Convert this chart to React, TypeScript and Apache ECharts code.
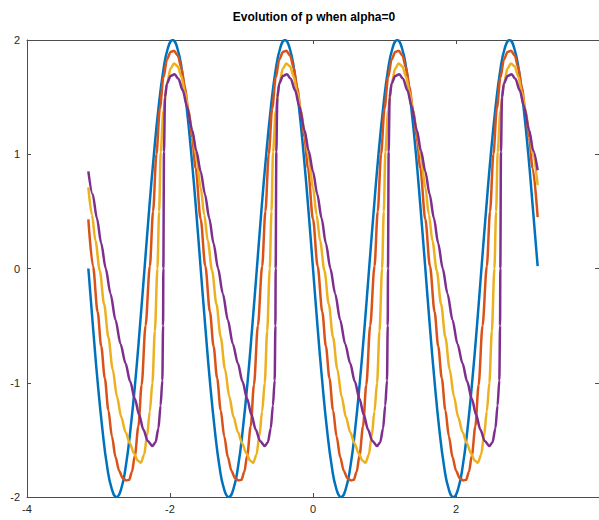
import React, { useEffect, useRef } from "react";
import * as echarts from "echarts";

const chartTitle = "Evolution of p when alpha=0";
const xTickMin = -4;
const xTickMax = 4;
const xTickStep = 2;
const yTickMin = -2;
const yTickMax = 2;
const yTickStep = 1;

const blueX = [
  -3.142, -3.076, -3.011, -2.945, -2.88, -2.814, -2.749, -2.683, -2.618, -2.553, -2.487, -2.422, -2.356, -2.291, -2.225, -2.16, -2.094, -2.029, -1.963, -1.898, -1.833, -1.767, -1.702, -1.636,
  -1.571, -1.505, -1.44, -1.374, -1.309, -1.244, -1.178, -1.113, -1.047, -0.982, -0.916, -0.851, -0.785, -0.72, -0.654, -0.589, -0.524, -0.458, -0.393, -0.327, -0.262, -0.196, -0.131, -0.065,
  0, 0.065, 0.131, 0.196, 0.262, 0.327, 0.393, 0.458, 0.524, 0.589, 0.654, 0.72, 0.785, 0.851, 0.916, 0.982, 1.047, 1.113, 1.178, 1.244, 1.309, 1.374, 1.44, 1.505,
  1.571, 1.636, 1.702, 1.767, 1.833, 1.898, 1.963, 2.029, 2.094, 2.16, 2.225, 2.291, 2.356, 2.422, 2.487, 2.553, 2.618, 2.683, 2.749, 2.814, 2.88, 2.945, 3.011, 3.076,
  3.142,
];
const blueY = [
  0, -0.52, -1, -1.41, -1.73, -1.93, -2, -1.93, -1.73, -1.41, -1, -0.52, 0, 0.52, 1, 1.41, 1.73, 1.93, 2, 1.93, 1.73, 1.41, 1, 0.52,
  0, -0.52, -1, -1.41, -1.73, -1.93, -2, -1.93, -1.73, -1.41, -1, -0.52, 0, 0.52, 1, 1.41, 1.73, 1.93, 2, 1.93, 1.73, 1.41, 1, 0.52,
  0, -0.52, -1, -1.41, -1.73, -1.93, -2, -1.93, -1.73, -1.41, -1, -0.52, 0, 0.52, 1, 1.41, 1.73, 1.93, 2, 1.93, 1.73, 1.41, 1, 0.52,
  0, -0.52, -1, -1.41, -1.73, -1.93, -2, -1.93, -1.73, -1.41, -1, -0.52, 0, 0.52, 1, 1.41, 1.73, 1.93, 2, 1.93, 1.73, 1.41, 1, 0.52,
  0.02,
];

const orangeX = [
  -3.142, -3.077, -3.012, -2.962, -2.912, -2.862, -2.812, -2.762, -2.712, -2.662, -2.612, -2.572, -2.532, -2.492, -2.442, -2.397, -2.342, -2.282, -2.237, -2.19, -2.142, -2.092, -2.042, -1.992, -1.944, -1.892, -1.842, -1.792, -1.742, -1.692, -1.642,
  -1.571, -1.506, -1.441, -1.391, -1.341, -1.291, -1.241, -1.191, -1.141, -1.091, -1.041, -1.001, -0.961, -0.921, -0.871, -0.826, -0.771, -0.711, -0.666, -0.619, -0.571, -0.521, -0.471, -0.421, -0.373, -0.321, -0.271, -0.221, -0.171, -0.121, -0.071,
  0, 0.065, 0.13, 0.18, 0.23, 0.28, 0.33, 0.38, 0.43, 0.48, 0.53, 0.57, 0.61, 0.65, 0.7, 0.745, 0.8, 0.86, 0.905, 0.952, 1.0, 1.05, 1.1, 1.15, 1.198, 1.25, 1.3, 1.35, 1.4, 1.45, 1.5,
  1.571, 1.636, 1.701, 1.751, 1.801, 1.851, 1.901, 1.951, 2.001, 2.051, 2.101, 2.141, 2.181, 2.221, 2.271, 2.316, 2.371, 2.431, 2.476, 2.523, 2.571, 2.621, 2.671, 2.721, 2.769, 2.821, 2.871, 2.921, 2.971, 3.021, 3.071,
  3.142,
];
const orangeY = [
  0.43, 0.02, -0.38, -0.68, -0.96, -1.24, -1.47, -1.65, -1.77, -1.835, -1.855, -1.85, -1.78, -1.64, -1.38, -1.02, -0.5, 0.02, 0.5, 1.0, 1.4, 1.67, 1.83, 1.895, 1.905, 1.865, 1.76, 1.59, 1.38, 1.15, 0.88,
  0.43, 0.02, -0.38, -0.68, -0.96, -1.24, -1.47, -1.65, -1.77, -1.835, -1.855, -1.85, -1.78, -1.64, -1.38, -1.02, -0.5, 0.02, 0.5, 1.0, 1.4, 1.67, 1.83, 1.895, 1.905, 1.865, 1.76, 1.59, 1.38, 1.15, 0.88,
  0.43, 0.02, -0.38, -0.68, -0.96, -1.24, -1.47, -1.65, -1.77, -1.835, -1.855, -1.85, -1.78, -1.64, -1.38, -1.02, -0.5, 0.02, 0.5, 1.0, 1.4, 1.67, 1.83, 1.895, 1.905, 1.865, 1.76, 1.59, 1.38, 1.15, 0.88,
  0.43, 0.02, -0.38, -0.68, -0.96, -1.24, -1.47, -1.65, -1.77, -1.835, -1.855, -1.85, -1.78, -1.64, -1.38, -1.02, -0.5, 0.02, 0.5, 1.0, 1.4, 1.67, 1.83, 1.895, 1.905, 1.865, 1.76, 1.59, 1.38, 1.15, 0.88,
  0.45,
];

const yellowX = [
  -3.142, -3.092, -3.042, -2.982, -2.922, -2.862, -2.802, -2.742, -2.682, -2.622, -2.562, -2.502, -2.452, -2.407, -2.362, -2.322, -2.282, -2.246, -2.212, -2.176, -2.152, -2.13, -2.092, -2.042, -1.992, -1.944, -1.892, -1.842, -1.792, -1.742, -1.692, -1.635,
  -1.571, -1.521, -1.471, -1.411, -1.351, -1.291, -1.231, -1.171, -1.111, -1.051, -0.991, -0.931, -0.881, -0.836, -0.791, -0.751, -0.711, -0.675, -0.641, -0.605, -0.581, -0.559, -0.521, -0.471, -0.421, -0.373, -0.321, -0.271, -0.221, -0.171, -0.121, -0.064,
  0, 0.05, 0.1, 0.16, 0.22, 0.28, 0.34, 0.4, 0.46, 0.52, 0.58, 0.64, 0.69, 0.735, 0.78, 0.82, 0.86, 0.896, 0.93, 0.966, 0.99, 1.012, 1.05, 1.1, 1.15, 1.198, 1.25, 1.3, 1.35, 1.4, 1.45, 1.507,
  1.571, 1.621, 1.671, 1.731, 1.791, 1.851, 1.911, 1.971, 2.031, 2.091, 2.151, 2.211, 2.261, 2.306, 2.351, 2.391, 2.431, 2.467, 2.501, 2.537, 2.561, 2.583, 2.621, 2.671, 2.721, 2.769, 2.821, 2.871, 2.921, 2.971, 3.021, 3.078,
  3.142,
];
const yellowY = [
  0.71, 0.47, 0.24, -0.02, -0.31, -0.6, -0.88, -1.12, -1.3, -1.43, -1.53, -1.62, -1.68, -1.7, -1.63, -1.47, -1.25, -1.0, -0.55, 0.0, 0.5, 1.02, 1.38, 1.62, 1.75, 1.795, 1.77, 1.68, 1.55, 1.39, 1.21, 0.99,
  0.71, 0.47, 0.24, -0.02, -0.31, -0.6, -0.88, -1.12, -1.3, -1.43, -1.53, -1.62, -1.68, -1.7, -1.63, -1.47, -1.25, -1.0, -0.55, 0.0, 0.5, 1.02, 1.38, 1.62, 1.75, 1.795, 1.77, 1.68, 1.55, 1.39, 1.21, 0.99,
  0.71, 0.47, 0.24, -0.02, -0.31, -0.6, -0.88, -1.12, -1.3, -1.43, -1.53, -1.62, -1.68, -1.7, -1.63, -1.47, -1.25, -1.0, -0.55, 0.0, 0.5, 1.02, 1.38, 1.62, 1.75, 1.795, 1.77, 1.68, 1.55, 1.39, 1.21, 0.99,
  0.71, 0.47, 0.24, -0.02, -0.31, -0.6, -0.88, -1.12, -1.3, -1.43, -1.53, -1.62, -1.68, -1.7, -1.63, -1.47, -1.25, -1.0, -0.55, 0.0, 0.5, 1.02, 1.38, 1.62, 1.75, 1.795, 1.77, 1.68, 1.55, 1.39, 1.21, 0.99,
  0.73,
];

const purpleX = [
  -3.142, -3.082, -3.022, -2.962, -2.899, -2.832, -2.762, -2.692, -2.622, -2.557, -2.492, -2.432, -2.372, -2.312, -2.246, -2.202, -2.162, -2.132, -2.107, -2.097, -2.093, -2.084, -2.07, -2.042, -1.992, -1.935, -1.882, -1.822, -1.762, -1.69, -1.632,
  -1.571, -1.511, -1.451, -1.391, -1.328, -1.261, -1.191, -1.121, -1.051, -0.986, -0.921, -0.861, -0.801, -0.741, -0.675, -0.631, -0.591, -0.561, -0.536, -0.526, -0.522, -0.513, -0.499, -0.471, -0.421, -0.364, -0.311, -0.251, -0.191, -0.119, -0.061,
  0, 0.06, 0.12, 0.18, 0.243, 0.31, 0.38, 0.45, 0.52, 0.585, 0.65, 0.71, 0.77, 0.83, 0.896, 0.94, 0.98, 1.01, 1.035, 1.045, 1.049, 1.058, 1.072, 1.1, 1.15, 1.207, 1.26, 1.32, 1.38, 1.452, 1.51,
  1.571, 1.631, 1.691, 1.751, 1.814, 1.881, 1.951, 2.021, 2.091, 2.156, 2.221, 2.281, 2.341, 2.401, 2.467, 2.511, 2.551, 2.581, 2.606, 2.616, 2.62, 2.629, 2.643, 2.671, 2.721, 2.778, 2.831, 2.891, 2.951, 3.023, 3.081,
  3.142,
];
const purpleY = [
  0.85, 0.65, 0.44, 0.22, 0.0, -0.22, -0.45, -0.66, -0.83, -0.99, -1.14, -1.28, -1.41, -1.51, -1.553, -1.52, -1.4, -1.2, -0.98, -0.5, 0.0, 1.02, 1.5, 1.62, 1.685, 1.7, 1.66, 1.56, 1.42, 1.21, 1.03,
  0.85, 0.65, 0.44, 0.22, 0.0, -0.22, -0.45, -0.66, -0.83, -0.99, -1.14, -1.28, -1.41, -1.51, -1.553, -1.52, -1.4, -1.2, -0.98, -0.5, 0.0, 1.02, 1.5, 1.62, 1.685, 1.7, 1.66, 1.56, 1.42, 1.21, 1.03,
  0.85, 0.65, 0.44, 0.22, 0.0, -0.22, -0.45, -0.66, -0.83, -0.99, -1.14, -1.28, -1.41, -1.51, -1.553, -1.52, -1.4, -1.2, -0.98, -0.5, 0.0, 1.02, 1.5, 1.62, 1.685, 1.7, 1.66, 1.56, 1.42, 1.21, 1.03,
  0.85, 0.65, 0.44, 0.22, 0.0, -0.22, -0.45, -0.66, -0.83, -0.99, -1.14, -1.28, -1.41, -1.51, -1.553, -1.52, -1.4, -1.2, -0.98, -0.5, 0.0, 1.02, 1.5, 1.62, 1.685, 1.7, 1.66, 1.56, 1.42, 1.21, 1.03,
  0.86,
];

const seriesDefs = [
  { name: "t0", xs: blueX, ys: blueY, color: "#0072BD", smooth: 0.5, mono: undefined },
  { name: "t1", xs: orangeX, ys: orangeY, color: "#D95319", smooth: 0.3, mono: "x" },
  { name: "t2", xs: yellowX, ys: yellowY, color: "#EDB120", smooth: 0.3, mono: "x" },
  { name: "t3", xs: purpleX, ys: purpleY, color: "#7E2F8E", smooth: 0.3, mono: "x" },
];

const axisColor = "#4d4d4d";
const textColor = "#262626";
const fontFamily = "'Liberation Sans', Arial, Helvetica, sans-serif";

export default function App() {
  const ref = useRef<HTMLDivElement>(null);
  useEffect(() => {
    if (!ref.current) return;
    const chart = echarts.init(ref.current, null, { renderer: "svg" });
    const baseX = {
      type: "value",
      min: xTickMin,
      max: xTickMax,
      interval: xTickStep,
      splitLine: { show: false },
      axisLine: { show: true, onZero: false, lineStyle: { color: axisColor, width: 1 } },
      axisTick: { show: true, inside: true, length: 4, lineStyle: { color: axisColor } },
    };
    const baseY = {
      type: "value",
      min: yTickMin,
      max: yTickMax,
      interval: yTickStep,
      splitLine: { show: false },
      axisLine: { show: true, onZero: false, lineStyle: { color: axisColor, width: 1 } },
      axisTick: { show: true, inside: true, length: 4, lineStyle: { color: axisColor } },
    };
    chart.setOption({
      animation: false,
      backgroundColor: "#ffffff",
      grid: { left: 27, right: -3, top: 40, bottom: 23, containLabel: false },
      graphic: [
        {
          type: "text",
          x: 314,
          y: 17,
          style: {
            text: chartTitle,
            fill: "#000000",
            font: `bold 12px ${fontFamily}`,
            textAlign: "center",
            textVerticalAlign: "middle",
          },
        },
      ],
      xAxis: [
        {
          ...baseX,
          position: "bottom",
          axisLabel: { show: true, margin: 6, color: textColor, fontSize: 11, fontFamily, showMaxLabel: false },
        },
        { ...baseX, position: "top", axisLabel: { show: false } },
      ],
      yAxis: [
        {
          ...baseY,
          position: "left",
          axisLabel: { show: true, margin: 7, color: textColor, fontSize: 11, fontFamily },
        },
        { ...baseY, position: "right", axisLabel: { show: false } },
      ],
      series: seriesDefs.map((s) => ({
        name: s.name,
        type: "line",
        xAxisIndex: 0,
        yAxisIndex: 0,
        data: s.xs.map((x, i) => [x, s.ys[i]]),
        showSymbol: false,
        smooth: s.smooth,
        smoothMonotone: s.mono,
        clip: true,
        lineStyle: { color: s.color, width: 2.5 },
        itemStyle: { color: s.color },
      })),
    });
    return () => chart.dispose();
  }, []);
  return (
    <div
      ref={ref}
      style={{ position: "fixed", left: 0, top: 0, width: 599, height: 520, background: "#fff" }}
    />
  );
}
